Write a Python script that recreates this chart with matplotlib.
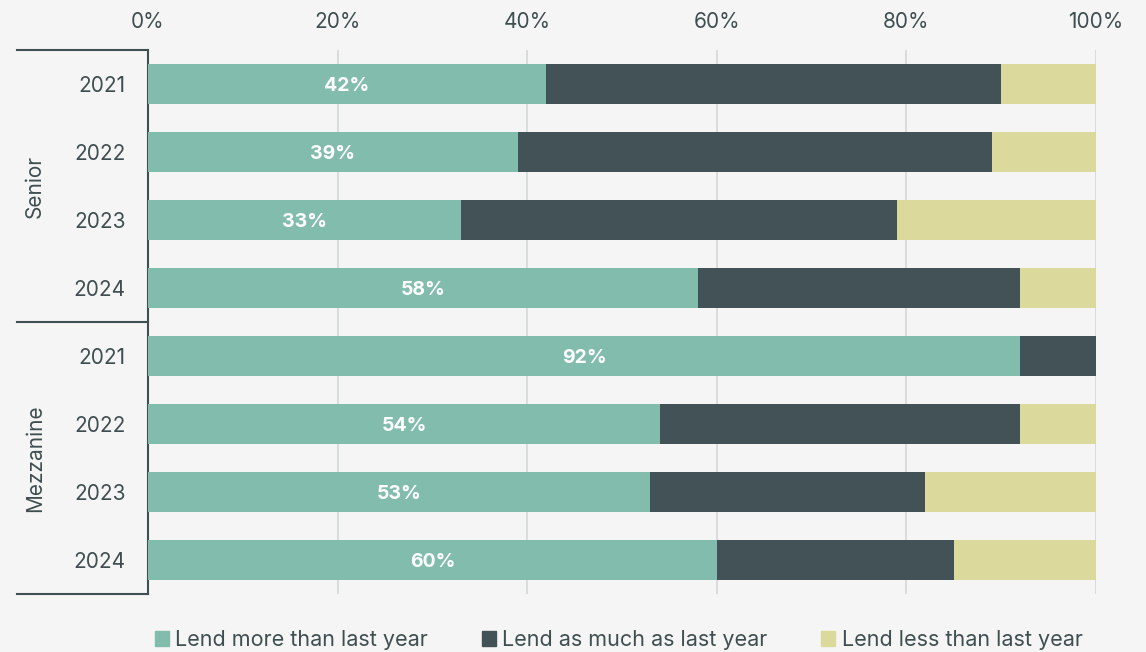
import matplotlib.pyplot as plt
import matplotlib.transforms as mtransforms
from matplotlib.patches import Patch

plt.rcParams['font.family'] = ['Inter', 'DejaVu Sans']

# Lending intentions by tranche and year (% of respondents)
groups = ["Senior", "Mezzanine"]
years = ["2021", "2022", "2023", "2024"]
more = [42, 39, 33, 58, 92, 54, 53, 60]
same = [48, 50, 46, 34, 8, 38, 29, 25]
less = [10, 11, 21, 8, 0, 8, 18, 15]
series_names = ["Lend more than last year", "Lend as much as last year", "Lend less than last year"]

bg = "#f5f5f5"
c_more, c_same, c_less = "#82bcad", "#435256", "#dcd99c"
text_col = "#3f4e51"

fig = plt.figure(figsize=(11.46, 6.52), dpi=100, facecolor=bg)
ax = fig.add_axes([148 / 1146, 1 - 594 / 652, (1096 - 148) / 1146, 544 / 652])
ax.set_facecolor(bg)

rows = list(range(len(more)))
left2 = [a for a in more]
left3 = [a + b for a, b in zip(more, same)]
ax.barh(rows, more, height=0.59, color=c_more, zorder=3)
ax.barh(rows, same, left=left2, height=0.59, color=c_same, zorder=3)
ax.barh(rows, less, left=left3, height=0.59, color=c_less, zorder=3)

for r, v in zip(rows, more):
    ax.text(v / 2, r + 0.03, f"{v}%", ha="center", va="center", color="white",
            fontsize=14, fontweight="bold", zorder=4)

ax.set_xlim(0, 100)
ax.set_ylim(7.5, -0.5)
ax.set_xticks([0, 20, 40, 60, 80, 100])
ax.set_xticklabels([f"{t}%" for t in [0, 20, 40, 60, 80, 100]])
ax.xaxis.tick_top()
ax.set_yticks(rows)
ax.set_yticklabels(years * 2)
ax.tick_params(axis="both", length=0, labelsize=15, colors=text_col)
ax.tick_params(axis="y", pad=16)
ax.tick_params(axis="x", pad=13)

for t in [20, 40, 60, 80, 100]:
    ax.axvline(t, color="#d3d7d7", lw=1.2, zorder=1)

for s in ["top", "right", "bottom"]:
    ax.spines[s].set_visible(False)
ax.spines["left"].set_color(text_col)
ax.spines["left"].set_linewidth(1.5)

# group separators and labels on the left
trans = mtransforms.blended_transform_factory(fig.transFigure, ax.transData)
for yb in [-0.5, 3.5, 7.5]:
    ax.plot([17 / 1146, 148 / 1146], [yb, yb], transform=trans, color=text_col,
            lw=1.5, clip_on=False, zorder=5)
for i, g in enumerate(groups):
    ax.text(35 / 1146, 1.5 + 4 * i, g, transform=trans, rotation=90,
            ha="center", va="center", fontsize=15, color=text_col)

handles = [Patch(color=c) for c in [c_more, c_same, c_less]]
fig.legend(handles, series_names, loc="lower center", bbox_to_anchor=(0.54, -0.027),
           ncol=3, frameon=False, fontsize=15.5, labelcolor=text_col,
           handlelength=0.65, handleheight=0.65, handletextpad=0.3, columnspacing=2.5)

fig.savefig("out.png", dpi=100, facecolor=bg)
